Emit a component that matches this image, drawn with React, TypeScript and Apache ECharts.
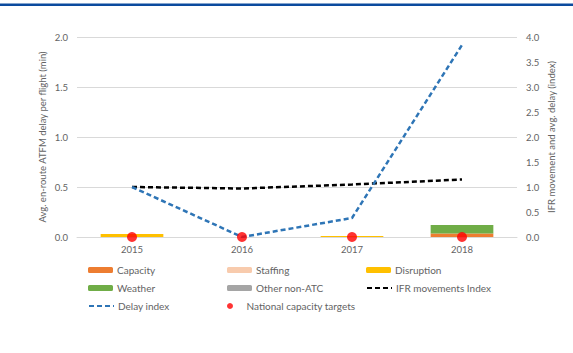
import React, { useEffect, useRef } from "react";
import * as echarts from "echarts";

const years = ["2015", "2016", "2017", "2018"];
const capacity = [0, 0, 0, 0.035];
const staffing = [0, 0, 0, 0];
const disruption = [0.03, 0, 0.01, 0];
const weather = [0, 0, 0, 0.085];
const otherNonAtc = [0, 0, 0, 0];
const ifrIndex = [1.0, 0.97, 1.05, 1.15];
const delayIndex = [1.0, 0.0, 0.38, 3.84];
const nationalTargets = [0, 0, 0, 0];

const FONT = "Lato, 'Open Sans', sans-serif";
const GREY = "#636363";

export default function App() {
  const ref = useRef<HTMLDivElement>(null);
  useEffect(() => {
    if (!ref.current) return;
    const chart = echarts.init(ref.current, undefined, { renderer: "svg" });
    const barSeries = (name: string, data: number[], color: string) => ({
      name,
      type: "bar",
      stack: "delay",
      data,
      barWidth: "57%",
      itemStyle: { color },
      z: 2,
    });
    const legendItem = (name: string, left: number, top: number, extra: any = {}) => ({
      data: [name],
      left,
      top,
      padding: 0,
      itemWidth: 25,
      itemHeight: 6,
      itemGap: 4,
      textStyle: { fontFamily: FONT, fontSize: 10, color: GREY, padding: [0, 0, 0, -1] },
      ...extra,
    });
    const lineLegend = { itemStyle: { opacity: 0 } };
    const rows = [265, 283, 301];
    const cols = [88, 227, 366];
    chart.setOption({
      animation: false,
      textStyle: { fontFamily: FONT },
      graphic: [
        {
          type: "rect",
          shape: { x: 0, y: 3.5, width: 573, height: 2.5 },
          style: { fill: "#0b4a9e" },
        },
      ],
      grid: { left: 77, right: 56, top: 37, bottom: 116 },
      xAxis: {
        type: "category",
        data: years,
        axisLine: { lineStyle: { color: "#d9d9d9" } },
        axisTick: { show: false },
        axisLabel: { color: GREY, fontSize: 9.5, fontFamily: FONT, margin: 7 },
      },
      yAxis: [
        {
          type: "value",
          min: 0,
          max: 2,
          interval: 0.5,
          name: "Avg. en-route ATFM delay per flight (min)",
          nameLocation: "middle",
          nameGap: 30,
          nameMoveOverlap: false,
          nameTextStyle: { color: GREY, fontSize: 9.5, fontFamily: FONT },
          axisLabel: {
            color: GREY,
            fontSize: 9.5,
            fontFamily: FONT,
            margin: 9,
            formatter: (v: number) => v.toFixed(1),
          },
          splitLine: { lineStyle: { color: "#d9d9d9" } },
          axisLine: { show: false },
          axisTick: { show: false },
        },
        {
          type: "value",
          min: 0,
          max: 4,
          interval: 0.5,
          name: "IFR movement and avg. delay (index)",
          nameLocation: "middle",
          nameGap: 29,
          nameRotate: 90,
          nameMoveOverlap: false,
          nameTextStyle: { color: GREY, fontSize: 9.5, fontFamily: FONT },
          axisLabel: {
            color: GREY,
            fontSize: 9.5,
            fontFamily: FONT,
            margin: 9,
            formatter: (v: number) => v.toFixed(1),
          },
          splitLine: { show: false },
          axisLine: { show: false },
          axisTick: { show: false },
        },
      ],
      legend: [
        legendItem("Capacity", cols[0], rows[0]),
        legendItem("Staffing", cols[1], rows[0]),
        legendItem("Disruption", cols[2], rows[0]),
        legendItem("Weather", cols[0], rows[1]),
        legendItem("Other non-ATC", cols[1], rows[1]),
        legendItem("IFR movements Index", cols[2], rows[1], lineLegend),
        legendItem("Delay index", cols[0], rows[2], lineLegend),
        legendItem("National capacity targets", cols[1], rows[2], { icon: "circle" }),
      ],
      series: [
        barSeries("Capacity", capacity, "#ed7d31"),
        barSeries("Staffing", staffing, "#f8cbad"),
        barSeries("Disruption", disruption, "#ffc000"),
        barSeries("Weather", weather, "#70ad47"),
        barSeries("Other non-ATC", otherNonAtc, "#a5a5a5"),
        {
          name: "IFR movements Index",
          type: "line",
          yAxisIndex: 1,
          data: ifrIndex,
          symbol: "none",
          lineStyle: { color: "#000000", width: 2.5, type: [5, 3] },
          itemStyle: { color: "#000000" },
          z: 3,
        },
        {
          name: "Delay index",
          type: "line",
          yAxisIndex: 1,
          data: delayIndex,
          symbol: "none",
          lineStyle: { color: "#2e75b6", width: 2.5, type: [5, 3] },
          itemStyle: { color: "#2e75b6" },
          z: 3,
        },
        {
          name: "National capacity targets",
          type: "scatter",
          data: nationalTargets,
          symbol: "circle",
          symbolSize: 10,
          itemStyle: { color: "#ff0000" },
          z: 5,
        },
      ],
    });
    return () => chart.dispose();
  }, []);
  return (
    <div
      ref={ref}
      style={{ position: "fixed", left: 0, top: 0, width: 573, height: 353, background: "#fff" }}
    />
  );
}
